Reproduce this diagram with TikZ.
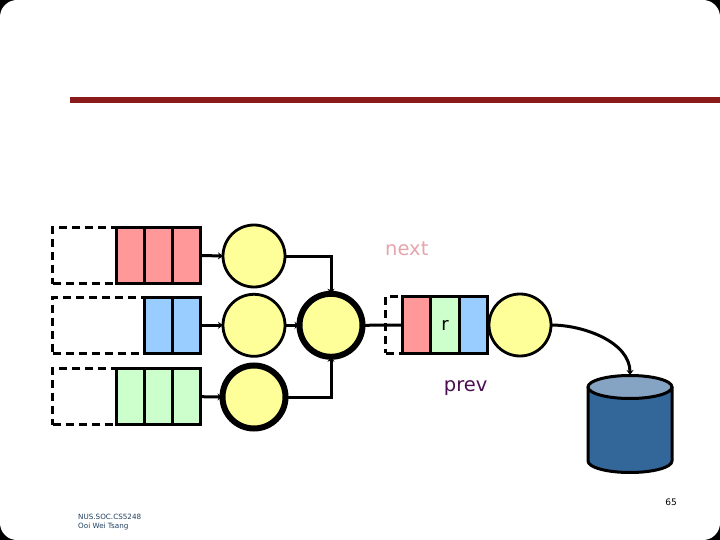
\documentclass[tikz,border=0pt]{standalone}
\usepackage{fontspec}
\setmainfont{DejaVu Sans}
\usetikzlibrary{shapes.geometric, arrows.meta, positioning}
\definecolor{barred}{HTML}{8B1A1A}
\definecolor{qred}{HTML}{FF9999}
\definecolor{qblue}{HTML}{99CCFF}
\definecolor{qgreen}{HTML}{CCFFCC}
\definecolor{circyellow}{HTML}{FFFF99}
\definecolor{diskbody}{HTML}{336699}
\definecolor{disktop}{HTML}{85A3C2}
\definecolor{nextpink}{HTML}{E6A5AD}
\definecolor{prevpurple}{HTML}{4A1050}
\definecolor{footblue}{HTML}{1F3F5F}
\tikzset{
  cell/.style={rectangle, draw=black, line width=3pt, outer sep=0pt, inner sep=0pt,
               minimum width=28.2pt, minimum height=56.5pt, font=\fontsize{18}{20}\selectfont},
  hole/.style={rectangle, draw=black, line width=3pt, dash pattern=on 8pt off 5pt,
               outer sep=0pt, minimum height=56.5pt, anchor=west},
  server/.style={circle, draw=black, fill=circyellow, line width=2.8pt, outer sep=0pt,
                 inner sep=0pt, minimum size=62pt},
  busy/.style={server, line width=6pt, minimum size=63pt},
  diskline/.style={draw=black, line width=3pt, line join=round},
  arrow/.style={-{Stealth[length=5pt,width=7pt]}, line width=3pt},
}
\begin{document}
\begin{tikzpicture}[x=1pt, y=-1pt]
  \useasboundingbox (0,0) rectangle (720,540);
  % Page corners and rule
  \fill[black] (0,0) rectangle (720,540);
  \fill[white, rounded corners=17pt] (0,0) rectangle (720,540);
  \node[fill=barred, minimum width=650pt, minimum height=6pt, inner sep=0pt, anchor=west] (rule) at (70,100) {};

  % Waiting space
  \node[hole, minimum width=70pt] (hole1) at (52.5,255.5) {};
  \node[hole, minimum width=98pt] (hole2) at (52.5,325.3) {};
  \node[hole, minimum width=70pt] (hole3) at (52.5,396.7) {};
  \node[hole, minimum width=30pt] (hole4) at (385.5,325) {};

  % Queue rows
  \node[cell, fill=qred] (qa1) at (130.1,255.5) {};
  \node[cell, fill=qred, right=0pt of qa1] (qa2) {};
  \node[cell, fill=qred, right=0pt of qa2] (qa3) {};

  \node[cell, fill=qblue] (qb1) at (158.3,325.3) {};
  \node[cell, fill=qblue, right=0pt of qb1] (qb2) {};

  \node[cell, fill=qgreen] (qc1) at (130.1,396.7) {};
  \node[cell, fill=qgreen, right=0pt of qc1] (qc2) {};
  \node[cell, fill=qgreen, right=0pt of qc2] (qc3) {};

  % Servers
  \node[server] (srva) at (254,256) {};
  \node[server] (srvb) at (254,325.3) {};
  \node[busy] (srvc) at (254,397) {};
  \node[busy] (srvd) at (331,325.3) {};

  % Output queue
  \node[cell, fill=qred] (qd1) at (416.8,325) {};
  \node[cell, fill=qgreen, right=0pt of qd1] (qd2) {r};
  \node[cell, fill=qblue, right=0pt of qd2] (qd3) {};
  \node[server] (srve) at (520,325) {};

  % Disk
  \node[minimum width=84pt, minimum height=98pt, inner sep=0pt, outer sep=0pt] (store) at (630,424) {};
  \path[diskline, fill=diskbody] (588,387) -- (588,461)
    arc[start angle=180, end angle=360, x radius=42pt, y radius=11.5pt] -- (672,387) -- cycle;
  \path[diskline, fill=disktop] (630,387) ellipse[x radius=42pt, y radius=11.5pt];

  % Labels
  \node[above=41pt of qd1, xshift=-10pt, text=nextpink, font=\fontsize{19.5}{20}\selectfont, inner sep=0pt] (nextlbl) {next};
  \node[below=27pt of qd3, xshift=-7.5pt, text=prevpurple, font=\fontsize{19.5}{20}\selectfont, inner sep=0pt] (prevlbl) {prev};
  \node[anchor=base east, font=\fontsize{9}{10}\selectfont, inner sep=0pt] (pagenum) at (677,505) {65};
  \node[anchor=west, align=left, text=footblue, font=\fontsize{7.2}{9}\selectfont, inner sep=0pt] (foot) at (78,522) {NUS.SOC.CS5248\\Ooi Wei Tsang};

  % Arrows
  \draw[arrow] (qa3.east) -- (srva.west);
  \draw[arrow] (qb2.east) -- (srvb.west);
  \draw[arrow] (qc3.east) -- (srvc.west);
  \draw[arrow] (srvb.east) -- (srvd.west);
  \draw[arrow] (srva.east) -| (srvd.north);
  \draw[arrow] (srvc.east) -| (srvd.south);
  \draw[line width=3pt] (srvd.east) -- (qd1.west);
  \draw[arrow] (srve.east) to[out=0, in=90, looseness=0.9] (store.north);
\end{tikzpicture}
\end{document}
